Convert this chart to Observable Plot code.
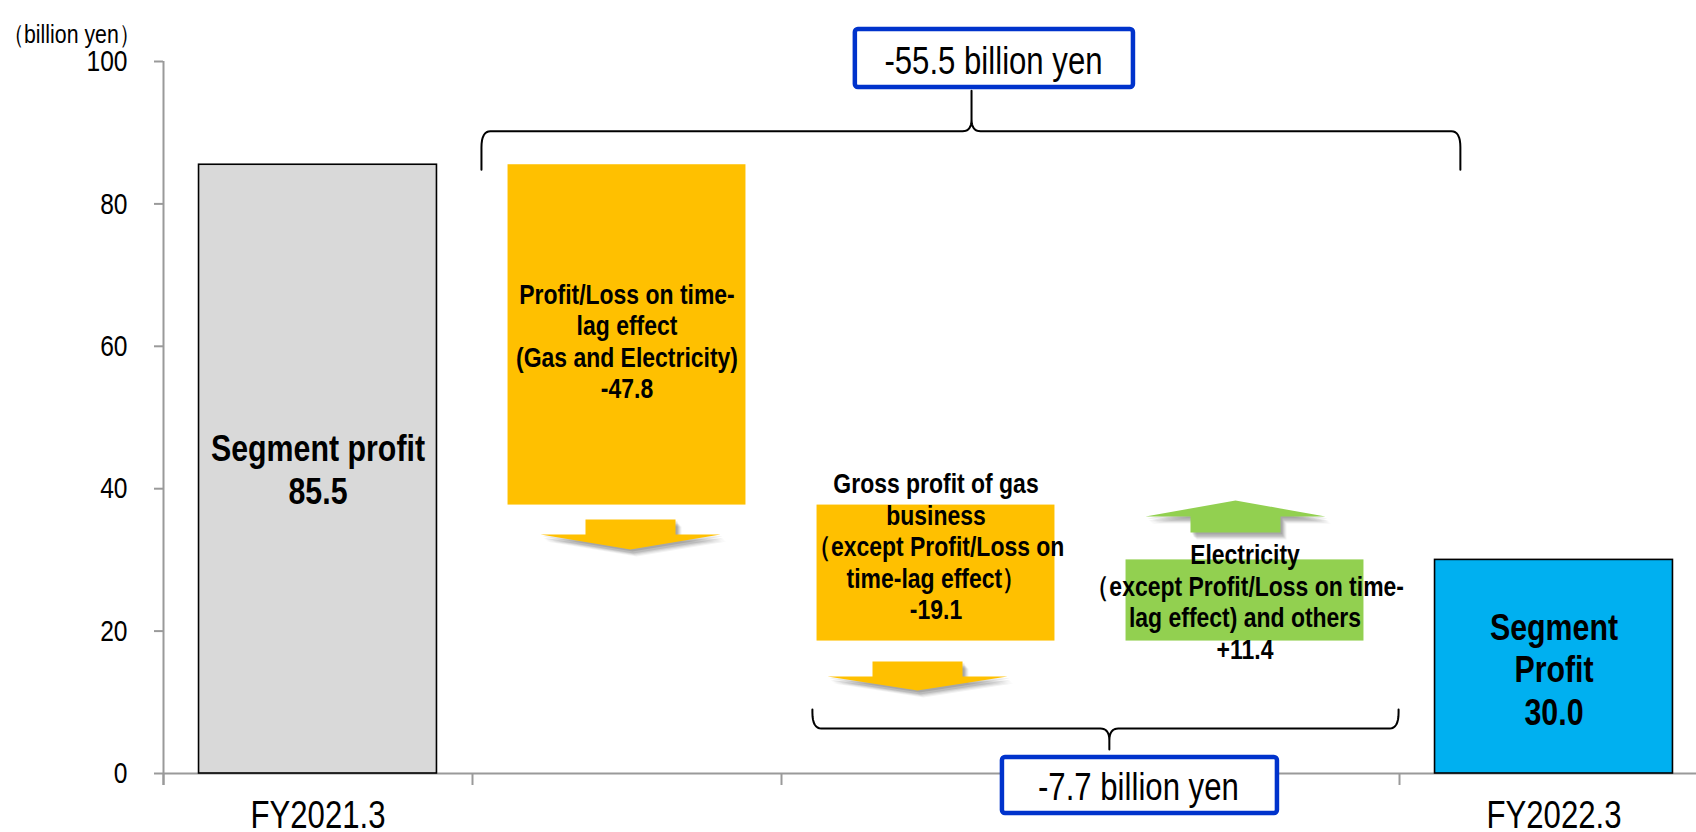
<!DOCTYPE html>
<html>
<head>
<meta charset="utf-8">
<script src="https://cdn.jsdelivr.net/npm/d3@7"></script>
<script src="https://cdn.jsdelivr.net/npm/@observablehq/plot@0.6"></script>
<style>
  html, body { margin: 0; padding: 0; background: #fff; }
  svg { display: block; }
</style>
</head>
<body>
<div id="chart"></div>
<script>
// ---------- data ----------
const categories = [
  "FY2021.3",
  "Profit/Loss on time-lag effect (Gas and Electricity)",
  "Gross profit of gas business (except Profit/Loss on time-lag effect)",
  "Electricity (except Profit/Loss on time-lag effect) and others",
  "FY2022.3"
];
const values = [85.5, -47.8, -19.1, 11.4, 30.0];
const kinds = ["total", "delta", "delta", "delta", "total"];
const barLabels = [
  "Segment profit\n85.5",
  "Profit/Loss on time-\nlag effect\n(Gas and Electricity)\n-47.8",
  "Gross profit of gas\nbusiness\n（except Profit/Loss on\ntime-lag effect）\n-19.1",
  "Electricity\n（except Profit/Loss on time-\nlag effect) and others\n+11.4",
  "Segment\nProfit\n30.0"
];
const xTickLabels = ["FY2021.3", "", "", "", "FY2022.3"];
const yTicks = [0, 20, 40, 60, 80, 100];
const unitLabel = "（billion yen）";
// brace groups (indices of the deltas summed)
const braceGroups = [[1, 2, 3], [2, 3]];

// ---------- styles / layout ----------
const barColors = ["#D9D9D9", "#FFC000", "#FFC000", "#92D050", "#00B0F0"];
const FONT = '"Liberation Sans", Arial, sans-serif';
const CONDENSE = 0.82; // emulate Arial Narrow
const W = 1696, H = 832;
const M_LEFT = 163, M_TOP = 61, M_BOTTOM = 59;
const X_RANGE = [163, 1708];
const Y_DOMAIN = [0, 100];
const yPerPx = (Y_DOMAIN[1] - Y_DOMAIN[0]) / (H - M_BOTTOM - M_TOP);
const xPerPx = categories.length / (X_RANGE[1] - X_RANGE[0]);
const labelShiftPx = [0, 6, -27, 1, 2]; // vertical text offsets (px, down positive)

// ---------- waterfall rows ----------
let running = 0;
const rows = categories.map((c, i) => {
  let y1, y2;
  if (kinds[i] === "total") { y1 = 0; y2 = values[i]; }
  else { y1 = running; y2 = running + values[i]; }
  running = y2;
  return {i, c, y1, y2, kind: kinds[i], label: barLabels[i], value: values[i],
          fill: barColors[i], ly: (y1 + y2) / 2 - labelShiftPx[i] * yPerPx};
});
const totals = rows.filter(d => d.kind === "total");
const deltas = rows.filter(d => d.kind === "delta");

// ---------- arrows (x-monotone outline: near edge y1, far edge y2) ----------
const arrowLayout = {1: {gap: 15, shaft: 15, head: 15, dx: 4},
                     2: {gap: 21, shaft: 15, head: 14, dx: -18},
                     3: {gap: 27, shaft: 16, head: 16, dx: -9}};
const arrowPts = [];
deltas.forEach(d => {
  const L = arrowLayout[d.i];
  const s = Math.sign(d.value);
  const cx = d.i + 0.5 + L.dx * xPerPx;
  const sw = 45 * xPerPx, hw = 90 * xPerPx;
  const start = d.y2 + s * L.gap * yPerPx;
  const mid = start + s * L.shaft * yPerPx;
  const tip = mid + s * L.head * yPerPx;
  const far = x => mid + (tip - mid) * (1 - Math.abs(x - cx) / hw);
  const pts = [
    [cx - hw, mid, mid],
    [cx - sw, mid, far(cx - sw)],
    [cx - sw, start, far(cx - sw)],
    [cx, start, tip],
    [cx + sw, start, far(cx + sw)],
    [cx + sw, mid, far(cx + sw)],
    [cx + hw, mid, mid]
  ];
  pts.forEach(([x, y1, y2]) => arrowPts.push({id: d.i, x, y1, y2, fill: d.fill}));
});
const orangeArrows = arrowPts.filter(d => d.fill === barColors[1]);
const greenArrows = arrowPts.filter(d => d.fill === barColors[3]);
// layered offsets that fake a soft drop shadow
const shadowSteps = [[2, 2, 0.10], [3, 4, 0.10], [4, 5, 0.08], [5, 6, 0.06], [6, 7, 0.05]];

// ---------- braces ----------
function quad(p0, c, p2, n = 8) {
  const out = [];
  for (let k = 1; k <= n; k++) {
    const t = k / n;
    out.push([(1 - t) * (1 - t) * p0[0] + 2 * (1 - t) * t * c[0] + t * t * p2[0],
              (1 - t) * (1 - t) * p0[1] + 2 * (1 - t) * t * c[1] + t * t * p2[1]]);
  }
  return out;
}
function brace(id, x0, x1, xt, yLine, yEnd, yTip) {
  const rx = 9 * xPerPx, ry = 16 * yPerPx, tx = 9 * xPerPx, ty = 12 * yPerPx;
  const s = Math.sign(yLine - yEnd), t = Math.sign(yTip - yLine);
  let p = [[x0, yEnd], [x0, yLine - s * ry]];
  p = p.concat(quad([x0, yLine - s * ry], [x0, yLine], [x0 + rx, yLine]));
  p.push([xt - tx, yLine]);
  p = p.concat(quad([xt - tx, yLine], [xt, yLine], [xt, yLine + t * ty]));
  p.push([xt, yTip]);
  p.push([xt, yLine + t * ty]);
  p = p.concat(quad([xt, yLine + t * ty], [xt, yLine], [xt + tx, yLine]));
  p.push([x1 - rx, yLine]);
  p = p.concat(quad([x1 - rx, yLine], [x1, yLine], [x1, yLine - s * ry]));
  p.push([x1, yEnd]);
  return p.map(([x, y]) => ({id, x, y}));
}
// brace geometry (x in category units, y in billion yen)
const braceLayout = [
  {x0: 1.029, x1: 4.197, xt: 2.615, yLine: 90.2, yEnd: 84.8, yTip: 95.9,
   box: {x1: 2.239, x2: 3.139, y1: 96.35, y2: 104.5}, tx: 2.686, ty: 100.0},
  {x0: 2.100, x1: 3.997, xt: 3.061, yLine: 6.32, yEnd: 8.99, yTip: 3.37,
   box: {x1: 2.715, x2: 3.605, y1: -5.62, y2: 2.25}, tx: 3.155, ty: -1.95}
];
const bracePts = braceLayout.flatMap((b, k) => brace(k, b.x0, b.x1, b.xt, b.yLine, b.yEnd, b.yTip));
const summaries = braceGroups.map((g, k) => {
  const sum = d3.sum(g, i => values[i]);
  const b = braceLayout[k];
  return {label: `${sum > 0 ? "+" : ""}${sum.toFixed(1)} billion yen`,
          x1: b.box.x1, x2: b.box.x2, y1: b.box.y1, y2: b.box.y2, tx: b.tx, ty: b.ty};
});

// ---------- plot ----------
const chart = Plot.plot({
  width: W, height: H,
  marginLeft: M_LEFT, marginRight: 0, marginTop: M_TOP, marginBottom: M_BOTTOM,
  style: {fontFamily: FONT, background: "#fff", color: "#000", overflow: "visible"},
  x: {type: "linear", domain: [0, categories.length], range: X_RANGE},
  y: {domain: Y_DOMAIN},
  marks: [
    // axes
    Plot.ruleX([0], {y1: -12 * yPerPx, y2: 100, stroke: "#9A9A9A", strokeWidth: 2}),
    Plot.axisY({ticks: yTicks, tickSize: 9, tickPadding: 27, fontSize: 30,
                stroke: "#9A9A9A", strokeWidth: 2, fill: "#000", label: null}),
    Plot.axisX({ticks: d3.range(categories.length + 1), tickSize: 12, tickFormat: () => "",
                stroke: "#9A9A9A", strokeWidth: 2, label: null}),
    Plot.axisX({ticks: categories.map((c, i) => i + 0.5).filter((d, i) => xTickLabels[i]),
                tickSize: 0, tickPadding: 28, fontSize: 38, fill: "#000",
                tickFormat: d => xTickLabels[Math.floor(d)], label: null}),
    Plot.ruleY([0], {stroke: "#9A9A9A", strokeWidth: 2}),
    Plot.text([unitLabel], {frameAnchor: "top-left", dx: 2 - M_LEFT, dy: 24 - M_TOP,
                            textAnchor: "start", fontSize: 26, fill: "#000"}),
    // bars
    Plot.rectY(totals, {x1: d => d.i + 0.115, x2: d => d.i + 0.885, y1: "y1", y2: "y2",
                        fill: d => d.fill, stroke: "#000", strokeWidth: 1.6}),
    Plot.rectY(deltas, {x1: d => d.i + 0.115, x2: d => d.i + 0.885, y1: "y1", y2: "y2",
                        fill: d => d.fill}),
    // arrow shadows
    ...shadowSteps.map(([dx, dy, op]) =>
      Plot.areaY(arrowPts, {x: "x", y1: "y1", y2: "y2", z: "id", curve: "linear",
                 fill: "#000", fillOpacity: op, dx, dy})),
    // arrows
    Plot.areaY(orangeArrows, {x: "x", y1: "y1", y2: "y2", z: "id", curve: "linear",
               fill: barColors[1]}),
    Plot.areaY(greenArrows, {x: "x", y1: "y1", y2: "y2", z: "id", curve: "linear",
               fill: barColors[3]}),
    // bar labels
    Plot.text(totals, {x: d => d.i + 0.5, y: "ly", text: "label", fontSize: 37, fontWeight: "bold",
                       lineHeight: 1.15, fill: "#000"}),
    Plot.text(deltas, {x: d => d.i + 0.5, y: "ly", text: "label", fontSize: 28, fontWeight: "bold",
                       lineHeight: 1.13, fill: "#000"}),
    // braces
    Plot.line(bracePts, {x: "x", y: "y", z: "id", stroke: "#000", strokeWidth: 2, curve: "linear"}),
    // summary boxes
    Plot.rect(summaries, {x1: "x1", x2: "x2", y1: "y1", y2: "y2", fill: "#fff", stroke: "#0033CC",
                          strokeWidth: 4.5, rx: 3}),
    Plot.text(summaries, {x: "tx", y: "ty", text: "label", fontSize: 38, fill: "#000"})
  ]
});

document.getElementById("chart").appendChild(chart);
// condense all text horizontally (Arial Narrow look)
d3.select(chart).selectAll("text").each(function () {
  const el = this;
  let t = el.getAttribute("transform");
  if (!t) {
    const x = +(el.getAttribute("x") || 0), y = +(el.getAttribute("y") || 0);
    el.removeAttribute("x"); el.removeAttribute("y");
    t = `translate(${x},${y})`;
  }
  el.setAttribute("transform", `${t} scale(${CONDENSE},1)`);
});
</script>
</body>
</html>
